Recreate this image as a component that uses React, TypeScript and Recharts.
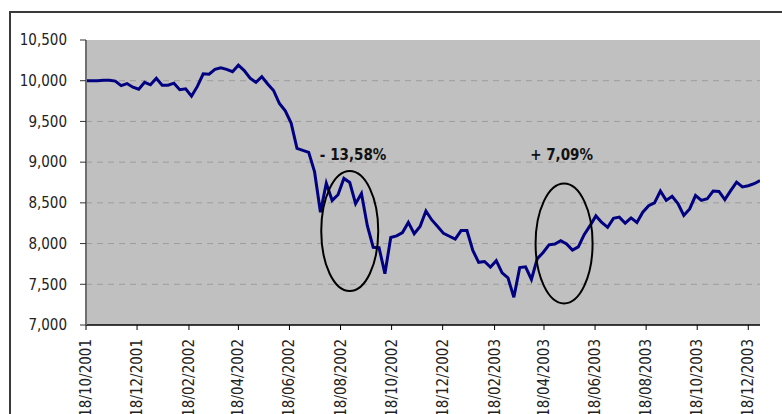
import { LineChart, Line, XAxis, YAxis, CartesianGrid, ReferenceDot } from 'recharts';

const DAY = 86400000;
const START = Date.UTC(2001, 9, 18);
const END = START + 805 * DAY;

// weekly closes, starting 18/10/2001
const indexValues = [
  10000, 10000, 10000, 10005, 10005, 9995, 9940, 9965, 9920, 9895,
  9980, 9950, 10030, 9945, 9945, 9970, 9890, 9900, 9810, 9930,
  10085, 10080, 10140, 10160, 10140, 10110, 10190, 10125, 10030, 9980,
  10050, 9960, 9880, 9720, 9630, 9480, 9170, 9145, 9120, 8880,
  8385, 8740, 8530, 8600, 8800, 8750, 8490, 8615, 8220, 7955,
  7950, 7630, 8075, 8095, 8135, 8260, 8120, 8210, 8400, 8290,
  8210, 8125, 8090, 8055, 8160, 8160, 7915, 7770, 7780, 7710,
  7790, 7640, 7580, 7340, 7705, 7715, 7560, 7815, 7890, 7985,
  7995, 8035, 7995, 7920, 7960, 8110, 8220, 8340, 8260, 8200,
  8310, 8325, 8250, 8315, 8260, 8385, 8465, 8500, 8645, 8530,
  8580, 8490, 8345, 8425, 8590, 8530, 8550, 8645, 8640, 8540,
  8650, 8755, 8695, 8710, 8735, 8775,
];

const xTickDates = [
  [2001, 10], [2001, 12], [2002, 2], [2002, 4], [2002, 6], [2002, 8], [2002, 10],
  [2002, 12], [2003, 2], [2003, 4], [2003, 6], [2003, 8], [2003, 10], [2003, 12],
];

const yTicks = [7000, 7500, 8000, 8500, 9000, 9500, 10000, 10500];
const gridValues = [7500, 8000, 8500, 9000, 9500, 10000];

// annotations: [year, month, day, value, text]
const ellipses = [
  [2002, 8, 29, 8154],
  [2003, 5, 12, 8001],
];
const labels: [number, number, number, number, string][] = [
  [2002, 9, 2, 9088, '- 13,58%'],
  [2003, 5, 9, 9088, '+ 7,09%'],
];

const data = indexValues.map((v, i) => ({ t: START + i * 7 * DAY, v }));
const ticks = xTickDates.map(([y, m]) => Date.UTC(y, m - 1, 18));

const FONT = '"DejaVu Sans Condensed", "Liberation Sans", sans-serif';

const pad = (n: number) => (n < 10 ? '0' + n : '' + n);
const fmtDate = (t: number) => {
  const d = new Date(t);
  return `${pad(d.getUTCDate())}/${pad(d.getUTCMonth() + 1)}/${d.getUTCFullYear()}`;
};

function DateTick({ x, y, payload }: any) {
  return (
    <text
      transform={`translate(${x + 5},${y + 7}) rotate(-90)`}
      textAnchor="end"
      fontSize={15}
      fontFamily={FONT}
      fill="#222"
    >
      {fmtDate(payload.value)}
    </text>
  );
}

export default function App() {
  return (
    <div style={{ position: 'absolute', left: 0, top: 0, width: 782, height: 414, overflow: 'hidden', background: '#fff' }}>
      <div style={{ position: 'absolute', left: 9, top: 11, width: 900, height: 600, border: '2px solid #3a3a3a' }} />
      <div style={{ position: 'absolute', left: 0, top: 0 }}>
        <LineChart width={782} height={414} data={data} margin={{ top: 40, right: 22, bottom: 0, left: 26 }}>
          <CartesianGrid
            fill="#c0c0c0"
            fillOpacity={1}
            vertical={false}
            horizontalValues={gridValues}
            stroke="#9c9c9c"
            strokeDasharray="6 5"
          />
          <XAxis
            type="number"
            dataKey="t"
            domain={[START, END]}
            ticks={ticks}
            allowDataOverflow
            height={89}
            tick={<DateTick />}
            tickSize={5}
            axisLine={{ stroke: '#000', strokeWidth: 1.5 }}
            tickLine={{ stroke: '#000' }}
            interval={0}
          />
          <YAxis
            domain={[7000, 10500]}
            ticks={yTicks}
            width={60}
            allowDataOverflow
            tickFormatter={(v: number) => v.toLocaleString('en-US')}
            tick={{ fontSize: 15, fontFamily: FONT, fill: '#222' }}
            tickSize={6}
            tickMargin={13}
            axisLine={{ stroke: '#707070', strokeWidth: 2 }}
            tickLine={{ stroke: '#333' }}
            interval={0}
          />
          <Line
            type="linear"
            dataKey="v"
            stroke="#000080"
            strokeWidth={3}
            dot={false}
            isAnimationActive={false}
          />
          {ellipses.map(([y, m, d, v], i) => (
            <ReferenceDot
              key={'e' + i}
              x={Date.UTC(y, m - 1, d)}
              y={v}
              shape={(p: any) => (
                <ellipse cx={p.cx} cy={p.cy} rx={28.5} ry={60} fill="none" stroke="#000" strokeWidth={2} />
              )}
            />
          ))}
          {labels.map(([y, m, d, v, txt], i) => (
            <ReferenceDot
              key={'l' + i}
              x={Date.UTC(y, m - 1, d)}
              y={v}
              shape={(p: any) => (
                <text
                  x={p.cx}
                  y={p.cy}
                  dy={5}
                  textAnchor="middle"
                  fontSize={15}
                  fontWeight="bold"
                  fontFamily={FONT}
                  fill="#111"
                >
                  {txt}
                </text>
              )}
            />
          ))}
        </LineChart>
      </div>
    </div>
  );
}
